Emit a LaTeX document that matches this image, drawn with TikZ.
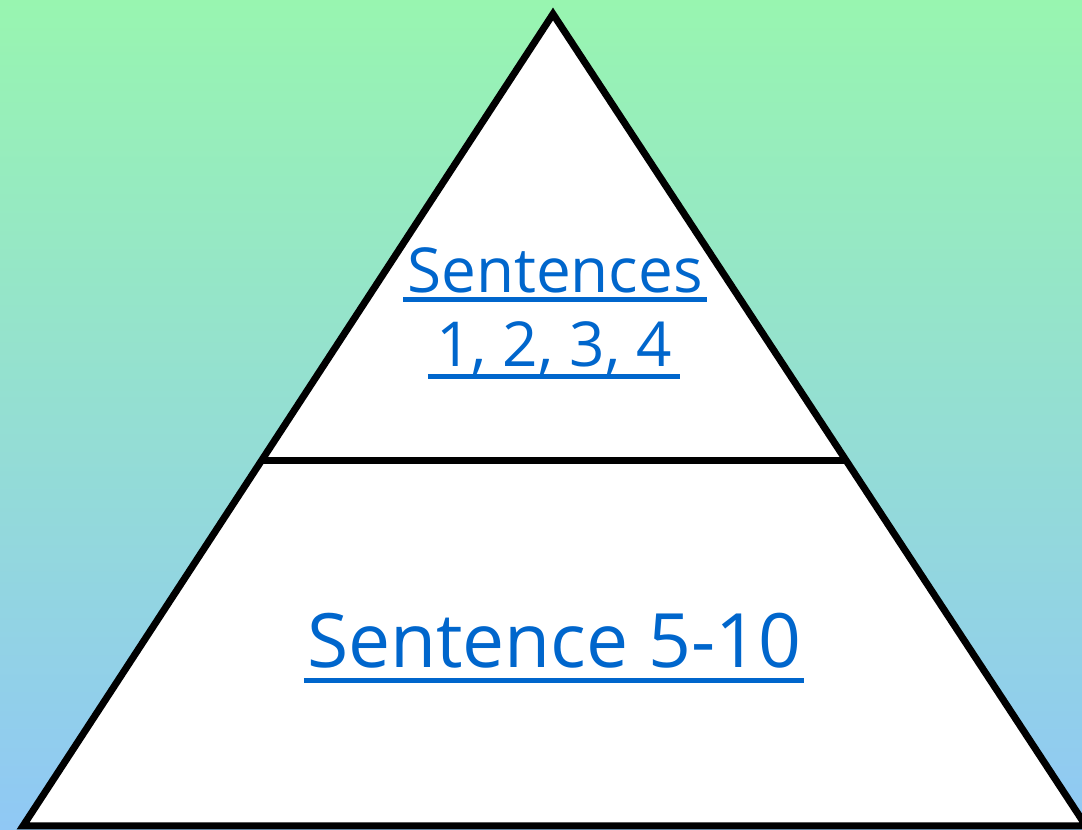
\documentclass[tikz,border=0pt]{standalone}
\usepackage{fontspec}
\setmainfont{Open Sans}
\usetikzlibrary{calc}
\definecolor{bgtop}{RGB}{152,245,176}
\definecolor{bgbot}{RGB}{144,200,245}
\definecolor{txtblue}{RGB}{0,102,204}
\tikzset{
  pyr/.style={draw=black,line width=7pt,fill=white,line join=miter},
  lbl/.style={text=txtblue,inner sep=0pt,anchor=base},
  ul/.style={draw=txtblue,line width=5pt}
}
\begin{document}
\begin{tikzpicture}[x=1pt,y=1pt]
\useasboundingbox (0,0) rectangle (1082,830);
\shade[top color=bgtop,bottom color=bgbot] (0,0) rectangle (1082,830);
\begin{scope}
\clip (0,0) rectangle (1082,830);
\coordinate (A) at (553,816);
\coordinate (BL) at (23,4);
\coordinate (BR) at (1086,4);
\path[pyr] (A) -- (BR) -- (BL) -- cycle;
\coordinate (DL) at ($(A)!0.5493!(BL)$);
\coordinate (DR) at ($(A)!0.5493!(BR)$);
\draw[line width=7pt] (DL) -- (DR);
\end{scope}
\node[lbl,font=\fontsize{62}{62}\selectfont] (t1) at (555,537) {Sentences};
\node[lbl,font=\fontsize{62}{62}\selectfont] (t2) at (554,463) {1, 2, 3, 4};
\node[lbl,font=\fontsize{75}{75}\selectfont] (t3) at (554,162) {Sentence 5-10};
\draw[ul] ([xshift=-4pt,yshift=-7pt]t1.base west) -- ([xshift=4pt,yshift=-7pt]t1.base east);
\draw[ul] ([xshift=-8pt,yshift=-10pt]t2.base west) -- ([xshift=8pt,yshift=-10pt]t2.base east);
\draw[ul] ([xshift=-3pt,yshift=-13pt]t3.base west) -- ([xshift=3pt,yshift=-13pt]t3.base east);
\end{tikzpicture}
\end{document}
